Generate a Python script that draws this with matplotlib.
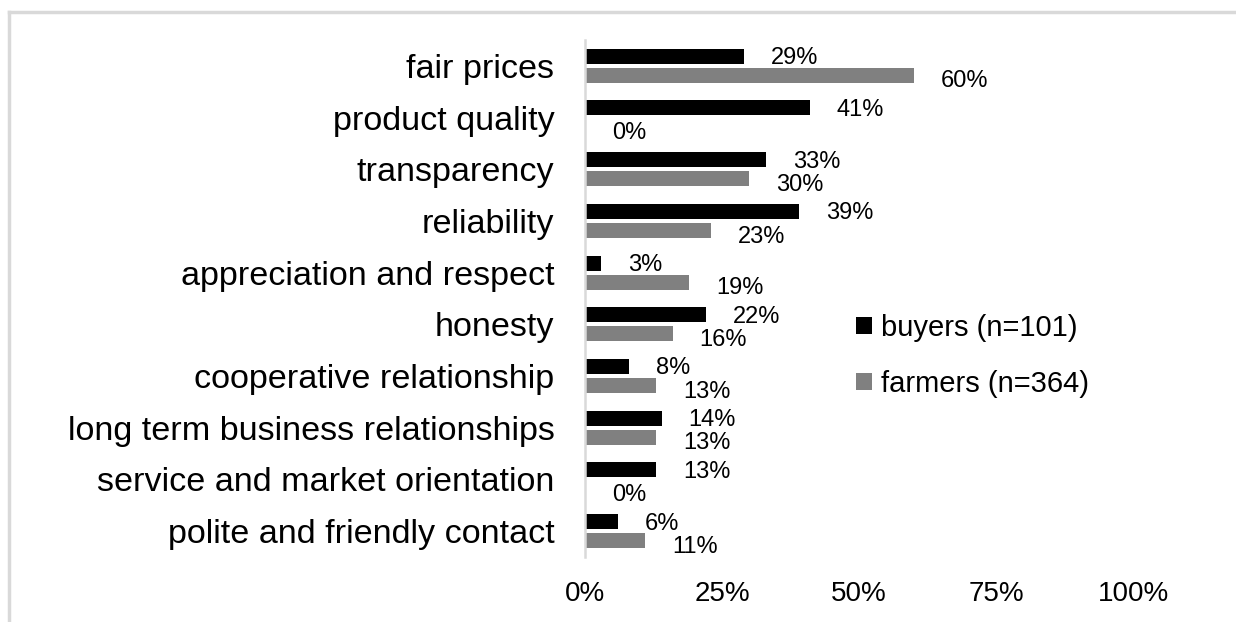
import matplotlib
matplotlib.use("Agg")
import matplotlib.pyplot as plt
from matplotlib.lines import Line2D
import numpy as np

plt.rcParams['font.family'] = ['Liberation Sans', 'DejaVu Sans']

categories = ["fair prices", "product quality", "transparency", "reliability",
              "appreciation and respect", "honesty", "cooperative relationship",
              "long term business relationships", "service and market orientation",
              "polite and friendly contact"]
buyers = [29, 41, 33, 39, 3, 22, 8, 14, 13, 6]
farmers = [60, 0, 30, 23, 19, 16, 13, 13, 0, 11]
series_labels = ["buyers (n=101)", "farmers (n=364)"]
xticks = [0, 25, 50, 75, 100]
xtick_labels = ["0%", "25%", "50%", "75%", "100%"]

W, H = 1236, 622
fig = plt.figure(figsize=(W / 100, H / 100), dpi=100)
ax = fig.add_axes([585 / W, 1 - 557 / H, (1133 - 585) / W, (557 - 40) / H])

y = np.arange(len(categories))
bh = 0.29
off = 0.185
b1 = ax.barh(y - off, buyers, height=bh, color="#000000", label=series_labels[0])
b2 = ax.barh(y + off, farmers, height=bh, color="#808080", label=series_labels[1])

for yi, v in zip(y, buyers):
    ax.annotate(f"{v}%", (v, yi - off), xytext=(27, -2), textcoords="offset pixels",
                ha="left", va="center", fontsize=17, color="black")
for yi, v in zip(y, farmers):
    ax.annotate(f"{v}%", (v, yi + off), xytext=(27, -6), textcoords="offset pixels",
                ha="left", va="center", fontsize=17, color="black")

ax.set_xlim(0, 100)
ax.set_ylim(len(categories) - 0.5, -0.5)
ax.set_yticks(y)
ax.set_yticklabels(categories, fontsize=24.6)
ax.set_xticks(xticks)
ax.set_xticklabels(xtick_labels, fontsize=20)
ax.tick_params(axis="y", length=0, pad=22)
ax.tick_params(axis="x", length=0, pad=17)
for s in ["top", "right", "bottom"]:
    ax.spines[s].set_visible(False)
ax.spines["left"].set_color("#D9D9D9")
ax.spines["left"].set_linewidth(1.8)

leg = ax.legend(handles=[b1, b2], loc="upper left",
                bbox_to_anchor=(856 / W, 1 - 314 / H), bbox_transform=fig.transFigure,
                frameon=False, fontsize=21, handlelength=0.55, handleheight=0.55,
                handletextpad=0.3, labelspacing=0.95, borderaxespad=0, borderpad=0)

# light gray frame
fig.add_artist(Line2D([8.5 / W, 1.0], [1 - 12 / H, 1 - 12 / H], transform=fig.transFigure,
                      color="#D9D9D9", linewidth=2.5))
fig.add_artist(Line2D([8.5 / W, 8.5 / W], [0, 1 - 12 / H], transform=fig.transFigure,
                      color="#D9D9D9", linewidth=2.5))

fig.savefig("out.png", dpi=100)
